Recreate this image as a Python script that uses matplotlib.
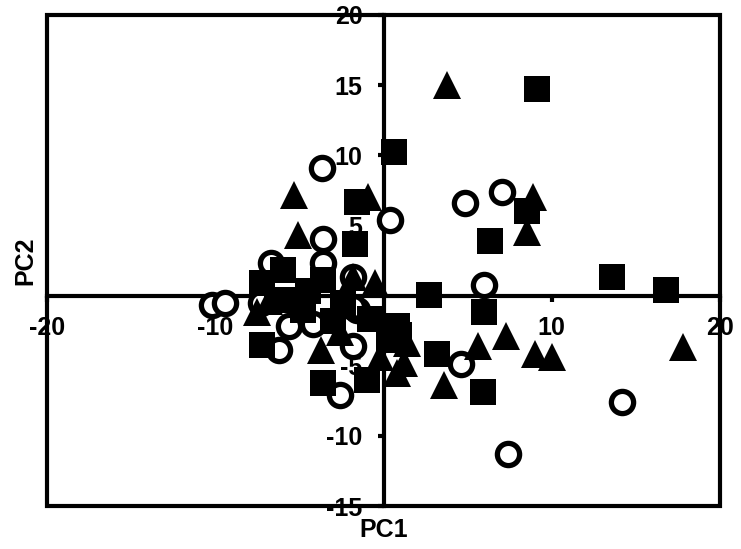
import numpy as np
import matplotlib.pyplot as plt
from matplotlib.patches import Rectangle

plt.rcParams['font.family'] = ['Liberation Sans', 'DejaVu Sans']
plt.rcParams['font.weight'] = 'bold'
plt.rcParams['axes.unicode_minus'] = False

# PC scores for the three groups
sq_x = [9.1, 0.6, -1.6, -1.7, 6.3, 8.5, 13.6, 16.8, 2.7, 6.0, 3.2, 5.9, -3.6, -1.0,
        0.8, -0.8, -7.2, -6.0, -7.2, -3.6, -2.4, -5.6, 0.9, -4.5, -4.8, -3.0, -6.3, 0.3]
sq_y = [14.7, 10.2, 6.7, 3.7, 3.9, 6.0, 1.3, 0.4, 0.05, -1.2, -4.2, -6.9, -6.2, -6.0,
        -2.2, -1.7, -3.5, 1.8, 0.9, 1.1, -0.5, -0.3, -2.8, 0.3, -1.0, -1.8, -0.3, -3.2]

tri_x = [3.8, 8.9, 8.5, -5.3, -5.1, -0.9, -0.5, 7.3, 5.6, 9.0, 10.0, 17.8, 3.6, 1.4,
         0.8, -0.2, -3.7, -7.5, -1.8, 1.2, -6.8, -2.6]
tri_y = [15.0, 7.0, 4.5, 7.2, 4.3, 7.0, 0.9, -2.9, -3.6, -4.2, -4.4, -3.7, -6.4, -3.4,
         -5.5, -4.4, -3.9, -1.2, 1.3, -4.8, -0.4, -2.6]

circ_x = [-3.65, 0.4, 4.85, 7.05, 6.0, 4.6, 14.2, 7.4, -2.6, -1.8, -6.2, -10.2, -9.4,
          -6.7, -3.6, -3.6, -1.8, -1.6, -4.2, -5.6, -7.3, -1.8]
circ_y = [9.1, 5.4, 6.6, 7.4, 0.75, -4.9, -7.6, -11.3, -7.1, -3.6, -3.9, -0.7, -0.5,
          2.3, 4.0, 2.3, 1.3, -1.0, -2.0, -2.2, -0.5, -0.8]

xticks = [-20, -10, 10, 20]
yticks = [-15, -10, -5, 5, 10, 15, 20]

fig = plt.figure(figsize=(7.41, 5.49), dpi=100)
ax = fig.add_axes([0.0634, 0.0783, 0.9083, 0.8944])

ax.plot(circ_x, circ_y, 'o', ms=16, mfc='white', mec='black', mew=3.8, zorder=3)
ax.plot(sq_x, sq_y, 's', ms=18.5, color='black', mew=0, zorder=3)
ax.plot(tri_x, tri_y, '^', ms=20, color='black', mew=0, zorder=3)

ax.set_xlim(-20, 20)
ax.set_ylim(-15, 20)

# axes lines through the origin, outer frame drawn separately
for side in ['left', 'bottom']:
    ax.spines[side].set_position('zero')
    ax.spines[side].set_linewidth(3)
for side in ['top', 'right']:
    ax.spines[side].set_visible(False)
ax.add_patch(Rectangle((0, 0), 1, 1, transform=ax.transAxes, fill=False,
                       lw=3, ec='black', zorder=4, clip_on=False))

ax.set_xticks(xticks)
ax.set_yticks(yticks)
ax.tick_params(direction='out', length=4, width=3, pad=11, labelsize=18)

ax.set_xlabel('PC1', fontsize=18, fontweight='bold')
ax.set_ylabel('PC2', fontsize=18, fontweight='bold')
ax.xaxis.set_label_coords(0.5, -0.025)
ax.yaxis.set_label_coords(-0.015, 0.5)

fig.savefig('out.png', dpi=100)
